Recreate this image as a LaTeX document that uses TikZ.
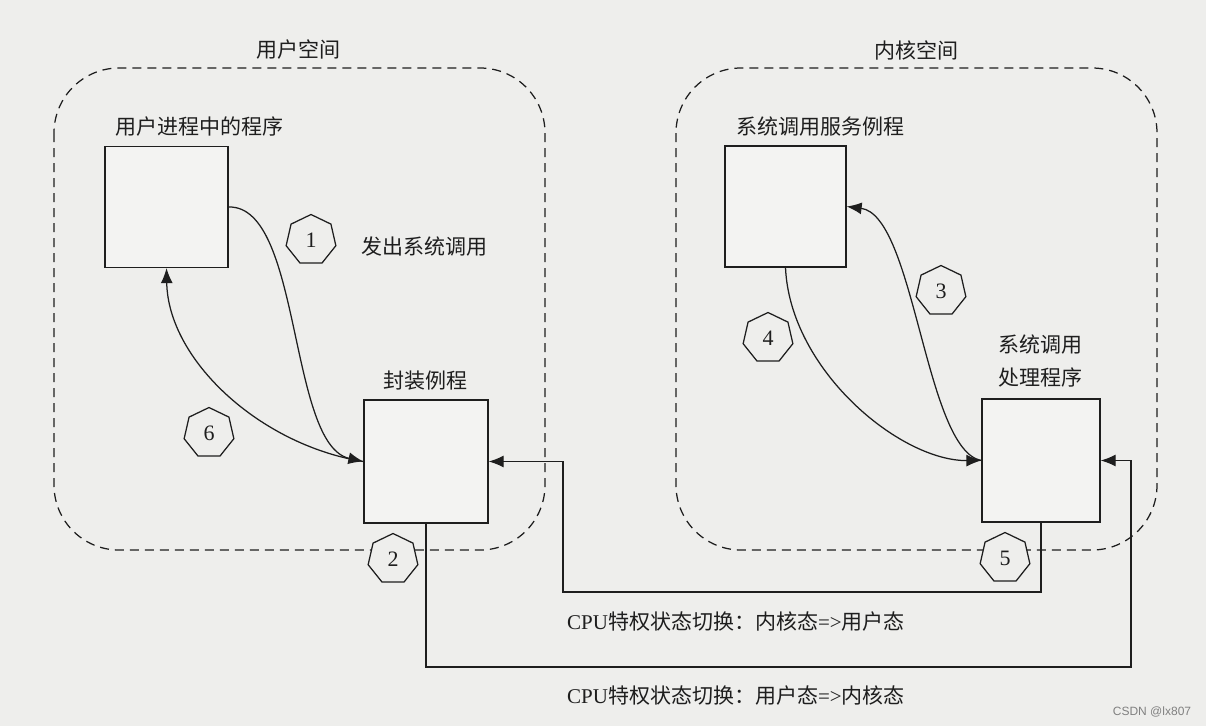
\documentclass[tikz,border=0pt]{standalone}
\usepackage{fontspec}
\setmainfont{Liberation Serif}
\newfontfamily\cjk{Noto Sans CJK SC}
\newfontfamily\wmfont{Liberation Sans}
\usetikzlibrary{arrows.meta,shapes.geometric}
\newcommand{\zh}[1]{{\cjk #1}}
\definecolor{paper}{RGB}{238,238,236}
\definecolor{ink}{RGB}{30,30,30}
\tikzset{every picture/.style={line width=1.25pt}}
\tikzset{
proc/.style={draw=ink,fill=paper!70!white,inner sep=0pt},
stepmark/.style={draw=ink,fill=paper,regular polygon,regular polygon sides=7,minimum size=51pt,inner sep=0pt,text=ink,font=\fontsize{22}{24}\selectfont},
spacebox/.style={draw=ink,dash pattern=on 9pt off 6pt,rounded corners=65pt},
flow/.style={draw=ink,-{Latex[length=15pt,width=12pt]}},
link/.style={draw=ink},
lbl/.style={text=ink,inner sep=0pt}}

\begin{document}
\begin{tikzpicture}[x=1pt,y=1pt,yscale=-1,xscale=1,font=\fontsize{21}{24}\selectfont]
\fill[paper] (0,0) rectangle (1206,726);
\useasboundingbox (0,0) rectangle (1206,726);

%Shape: Rounded Rect (user space)
\draw[spacebox] (54,68) rectangle (545,550);
%Shape: Rounded Rect (kernel space)
\draw[spacebox] (676,68) rectangle (1157,550);

%Flowchart: Process
\node[proc,minimum width=123pt,minimum height=121pt] (prog) at (166.5,207) {};
\node[proc,minimum width=124pt,minimum height=123pt] (wrap) at (426,461.5) {};
\node[proc,minimum width=121pt,minimum height=121pt] (svc) at (785.5,206.5) {};
\node[proc,minimum width=118pt,minimum height=123pt] (hdl) at (1041,460.5) {};

%Free ends of the mode switch lines
\coordinate (kret) at (563,592);
\coordinate (kin) at (1131,667);

%Curves
\draw[flow] (prog.east) .. controls (302,205) and (288,445) .. (wrap.west);
\draw[flow] (wrap.west) .. controls (260,445) and (168,360) .. (prog.south);
\draw[flow] (hdl.west) .. controls (925,450) and (915,215) .. (svc.east);
\draw[flow] (svc.south) .. controls (790,370) and (900,461) .. (hdl.west);

%Straight Lines
\draw[flow] (hdl.south) |- (kret) |- (wrap.east);
\draw[flow] (wrap.south) |- (kin) |- (hdl.east);

%Shape: Heptagon
\node[stepmark] (s1) at (311,240) {1};
\node[stepmark] (s2) at (393,559) {2};
\node[stepmark] (s3) at (941,291) {3};
\node[stepmark] (s4) at (768,338) {4};
\node[stepmark] (s5) at (1005,558) {5};
\node[stepmark] (s6) at (209,433) {6};

% Text Node
\node[lbl] (luser) at (298,50) {\zh{用户空间}};
% Text Node
\node[lbl] (lkern) at (916,50) {\zh{内核空间}};
% Text Node
\node[lbl,anchor=west] (lprog) at (115,127) {\zh{用户进程中的程序}};
% Text Node
\node[lbl,anchor=west] (lsvc) at (736,127) {\zh{系统调用服务例程}};
% Text Node
\node[lbl] (lwrap) at (425,381) {\zh{封装例程}};
% Text Node
\node[lbl,align=center,font=\fontsize{21}{33}\selectfont] (lhdl) at (1040,361.5) {\zh{系统调用}\\\zh{处理程序}};
% Text Node
\node[lbl] (lcall) at (424,247) {\zh{发出系统调用}};
% Text Node
\node[lbl] (lret) at (736,622) {CPU\zh{特权状态切换：内核态}=>\zh{用户态}};
% Text Node
\node[lbl] (lin) at (736,696) {CPU\zh{特权状态切换：用户态}=>\zh{内核态}};
% Text Node
\node[text=gray,inner sep=0pt,font=\wmfont\fontsize{12}{14}\selectfont] (wm) at (1152,712) {CSDN @lx807};

\end{tikzpicture}
\end{document}
